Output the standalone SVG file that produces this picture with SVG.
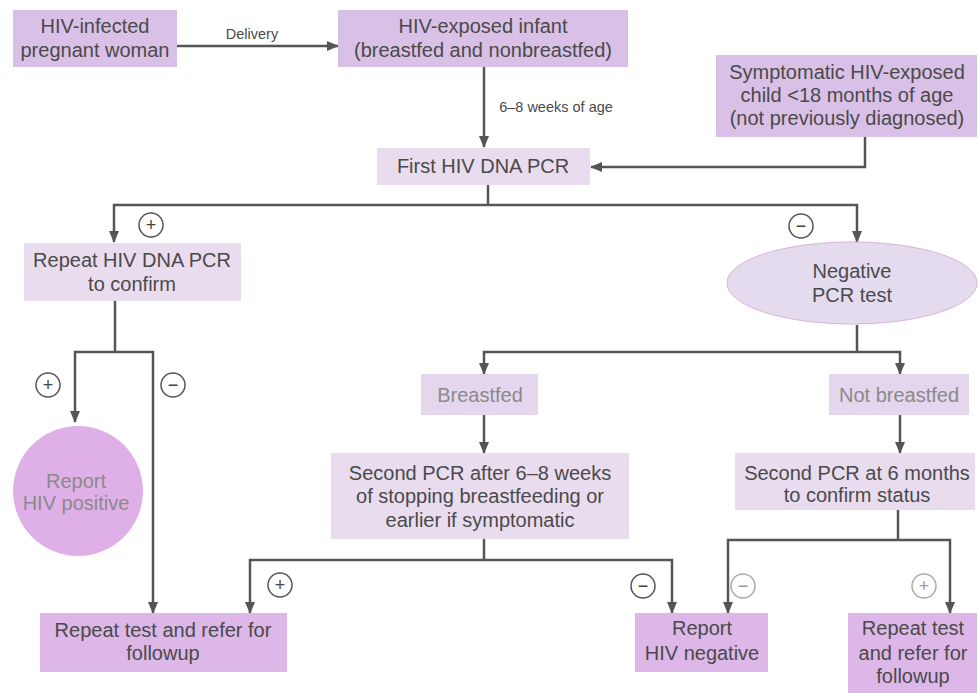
<svg xmlns="http://www.w3.org/2000/svg" width="978" height="693" viewBox="0 0 978 693">
<defs>
<marker id="ah" viewBox="0 0 12 12" refX="11" refY="6" markerWidth="12" markerHeight="12" markerUnits="userSpaceOnUse" orient="auto">
<path d="M0,1 L12,6 L0,11 Z" fill="#555"/>
</marker>
<style>
text{font-family:"Liberation Sans",Arial,sans-serif;fill:#4a4a4a;text-anchor:middle}
.t{font-size:20px}
.s{font-size:14.5px}
.faint{fill:#8a8a8a}
.b1{fill:#d9c0e6}
.b2{fill:#e9dcef}
.b3{fill:#ddb7e8}
.b4{fill:#e4d6ec}
.ln{fill:none;stroke:#555;stroke-width:2.5}
.ar{marker-end:url(#ah)}
.sg circle{fill:none;stroke:#555;stroke-width:1.5}
.sg text{font-size:18px;fill:#444}
.sf circle{stroke:#aaa}
.sf text{fill:#999}
</style>
</defs>
<rect width="978" height="693" fill="#ffffff"/>

<g id="connectors">
<path class="ln ar" d="M177,46 H338"/>
<path class="ln ar" d="M484,67 V147"/>
<path class="ln ar" d="M865,137 V167 H591"/>
<path class="ln" d="M488,185 V205"/>
<path class="ln ar" d="M488,205 H114 V242"/>
<path class="ln ar" d="M488,205 H857 V242"/>
<path class="ln" d="M115,301 V352"/>
<path class="ln ar" d="M115,352 H75 V422"/>
<path class="ln ar" d="M115,352 H153 V613"/>
<path class="ln" d="M857,325 V352"/>
<path class="ln ar" d="M857,352 H484 V374"/>
<path class="ln ar" d="M857,352 H900 V374"/>
<path class="ln ar" d="M484,415 V453"/>
<path class="ln ar" d="M900,415 V453"/>
<path class="ln" d="M484,539 V560"/>
<path class="ln ar" d="M484,560 H250 V613"/>
<path class="ln ar" d="M484,560 H672 V613"/>
<path class="ln" d="M898,510 V540"/>
<path class="ln ar" d="M898,540 H728 V613"/>
<path class="ln ar" d="M898,540 H950 V613"/>
<text class="s" x="252" y="39">Delivery</text>
<text class="s" x="556" y="112">6–8 weeks of age</text>
<g class="sg"><circle cx="151" cy="225" r="12"/><text x="151" y="231">+</text></g>
<g class="sg"><circle cx="801" cy="226" r="12"/><text x="801" y="232">−</text></g>
<g class="sg"><circle cx="48" cy="385" r="12"/><text x="48" y="391">+</text></g>
<g class="sg"><circle cx="173" cy="385" r="12"/><text x="173" y="391">−</text></g>
<g class="sg"><circle cx="280" cy="585" r="12"/><text x="280" y="591">+</text></g>
<g class="sg"><circle cx="643" cy="586" r="12"/><text x="643" y="592">−</text></g>
<g class="sg sf"><circle cx="743" cy="586" r="12"/><text x="743" y="592">−</text></g>
<g class="sg sf"><circle cx="924" cy="586" r="12"/><text x="924" y="592">+</text></g>
</g>

<g id="pregnant">
<rect class="b1" x="13" y="10" width="164" height="57"/>
<text class="t" x="95" y="33">HIV-infected</text>
<text class="t" x="95" y="57">pregnant woman</text>
</g>
<g id="infant">
<rect class="b1" x="338" y="10" width="290" height="57"/>
<text class="t" x="483" y="33">HIV-exposed infant</text>
<text class="t" x="483" y="57">(breastfed and nonbreastfed)</text>
</g>
<g id="symptomatic">
<rect class="b1" x="716" y="55" width="261" height="82"/>
<text class="t" x="847" y="79">Symptomatic HIV-exposed</text>
<text class="t" x="847" y="102">child &lt;18 months of age</text>
<text class="t" x="847" y="125">(not previously diagnosed)</text>
</g>
<g id="firstpcr">
<rect class="b2" x="377" y="148" width="213" height="37"/>
<text class="t" x="483" y="173">First HIV DNA PCR</text>
</g>
<g id="repeatpcr">
<rect class="b2" x="24" y="243" width="217" height="58"/>
<text class="t" x="132" y="267">Repeat HIV DNA PCR</text>
<text class="t" x="132" y="291">to confirm</text>
</g>
<g id="negpcr">
<ellipse cx="852" cy="283" rx="125" ry="41" fill="#e5dbef" stroke="#d8b2d8" stroke-width="1"/>
<text class="t" x="852" y="278">Negative</text>
<text class="t" x="852" y="302">PCR test</text>
</g>
<g id="hivpos">
<circle cx="78" cy="491" r="65" fill="#dfb0e8"/>
<text class="t faint" x="76" y="488">Report</text>
<text class="t faint" x="76" y="510">HIV positive</text>
</g>
<g id="breastfed">
<rect class="b4" x="421" y="374" width="117" height="41"/>
<text class="t faint" x="480" y="402">Breastfed</text>
</g>
<g id="notbreastfed">
<rect class="b4" x="829" y="374" width="140" height="41"/>
<text class="t faint" x="899" y="402">Not breastfed</text>
</g>
<g id="secondpcr1">
<rect class="b2" x="331" y="453" width="298" height="86"/>
<text class="t" x="480" y="480">Second PCR after 6–8 weeks</text>
<text class="t" x="480" y="503">of stopping breastfeeding or</text>
<text class="t" x="480" y="527">earlier if symptomatic</text>
</g>
<g id="secondpcr2">
<rect class="b2" x="735" y="453" width="240" height="57"/>
<text class="t" x="857" y="480">Second PCR at 6 months</text>
<text class="t" x="857" y="502">to confirm status</text>
</g>
<g id="repeatleft">
<rect class="b3" x="40" y="613" width="247" height="59"/>
<text class="t" x="163" y="637">Repeat test and refer for</text>
<text class="t" x="163" y="660">followup</text>
</g>
<g id="hivneg">
<rect class="b3" x="635" y="613" width="133" height="59"/>
<text class="t" x="702" y="635">Report</text>
<text class="t" x="702" y="660">HIV negative</text>
</g>
<g id="repeatright">
<rect class="b3" x="848" y="613" width="129" height="80"/>
<text class="t" x="913" y="635">Repeat test</text>
<text class="t" x="913" y="660">and refer for</text>
<text class="t" x="913" y="683">followup</text>
</g>
</svg>
